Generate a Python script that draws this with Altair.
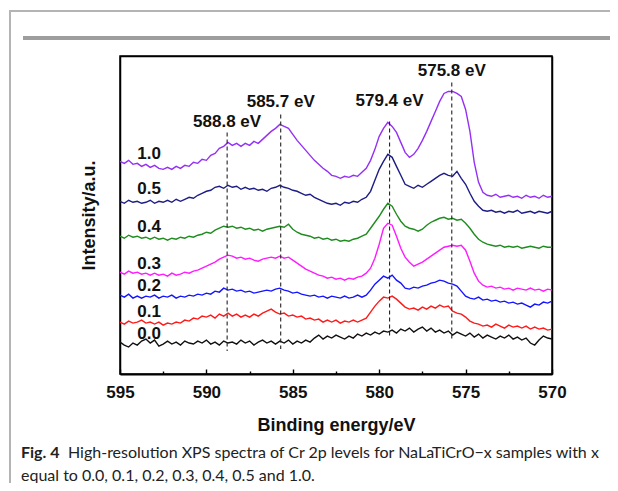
import altair as alt
import pandas as pd

# ---- data ----
energy = [595.0 - 0.25 * i for i in range(101)]  # binding energy grid, eV

series_names = ["0.0", "0.1", "0.2", "0.3", "0.4", "0.5", "1.0"]
series_colors = ["#111111", "#ff1a1a", "#1414ff", "#ff1aff", "#1e8c1e", "#1c1c84", "#9430f5"]

s00 = [32, 29, 27, 31, 29, 33, 35, 31, 34, 28, 30, 33, 30, 32, 29, 33, 31, 30, 33, 31,
       34, 30, 32, 29, 33, 31, 32, 30, 34, 31, 33, 29, 32, 34, 31, 33, 30, 33, 31, 34,
       30, 33, 31, 34, 32, 36, 39, 35, 38, 36, 39, 37, 35, 38, 36, 40, 38, 41, 39, 42,
       40, 43, 42, 44, 41, 45, 43, 46, 42, 45, 47, 43, 46, 42, 44, 41, 43, 39, 42, 40,
       38, 41, 37, 40, 36, 39, 37, 35, 38, 36, 39, 35, 37, 34, 36, 31, 29, 34, 38, 36, 35]
s01 = [52, 50, 53, 51, 52, 54, 51, 52, 50, 52, 49, 51, 50, 52, 51, 54, 53, 56, 55, 58,
       57, 59, 56, 60, 58, 61, 58, 60, 57, 59, 57, 60, 58, 61, 63, 65, 62, 60, 61, 58,
       59, 57, 58, 55, 56, 54, 55, 52, 54, 52, 54, 51, 53, 52, 54, 52, 54, 56, 62, 68,
       73, 77, 76, 78, 75, 71, 67, 65, 66, 64, 67, 65, 68, 66, 69, 67, 68, 63, 61, 60,
       57, 53, 51, 50, 48, 49, 47, 50, 48, 46, 49, 47, 48, 46, 48, 45, 47, 45, 46, 44, 45]
s02 = [79, 77, 80, 76, 78, 76, 78, 77, 79, 76, 78, 77, 79, 76, 78, 77, 79, 78, 80, 79,
       81, 80, 83, 82, 86, 84, 85, 83, 84, 82, 83, 81, 82, 83, 84, 83, 85, 86, 84, 83,
       81, 82, 80, 79, 78, 79, 77, 78, 76, 78, 77, 76, 78, 76, 77, 79, 77, 79, 84, 90,
       94, 98, 96, 99, 94, 91, 86, 85, 87, 86, 88, 89, 91, 92, 94, 93, 91, 90, 88, 83,
       78, 76, 75, 77, 74, 75, 73, 74, 72, 73, 71, 72, 70, 71, 69, 67, 70, 69, 72, 71, 73]
s03 = [102, 100, 103, 101, 102, 100, 101, 99, 101, 99, 100, 98, 101, 99, 100, 102, 101, 103, 104, 106,
       108, 110, 112, 115, 117, 119, 118, 116, 117, 115, 116, 114, 113, 115, 116, 117, 116, 118, 116, 117,
       114, 111, 108, 105, 103, 101, 99, 98, 96, 97, 95, 96, 94, 96, 95, 97, 98, 101, 106, 116,
       130, 146, 151, 149, 138, 126, 117, 112, 108, 110, 112, 115, 118, 121, 124, 127, 128, 129, 128, 129,
       124, 113, 101, 93, 89, 87, 88, 86, 87, 85, 86, 84, 86, 85, 84, 86, 84, 85, 83, 85, 84]
s04 = [138, 136, 139, 137, 138, 136, 137, 135, 137, 135, 136, 134, 136, 135, 137, 136, 138, 137, 139, 140,
       142, 141, 144, 146, 148, 147, 148, 146, 147, 145, 146, 144, 145, 143, 145, 146, 147, 148, 147, 150,
       145, 142, 140, 139, 138, 136, 137, 135, 136, 134, 135, 133, 134, 133, 135, 136, 138, 140, 146, 152,
       158, 165, 171, 168, 160, 153, 148, 146, 145, 143, 145, 149, 152, 154, 156, 157, 155, 156, 154, 155,
       151, 146, 140, 135, 132, 130, 129, 128, 129, 127, 128, 127, 128, 126, 127, 128, 127, 126, 128, 127, 127]
s05 = [173, 171, 174, 172, 173, 171, 172, 174, 171, 173, 172, 174, 172, 175, 173, 175, 177, 176, 179, 181,
       183, 184, 187, 188, 186, 189, 187, 188, 185, 187, 185, 186, 184, 185, 183, 186, 187, 189, 187, 186,
       184, 183, 181, 179, 180, 177, 175, 173, 171, 170, 171, 169, 172, 171, 173, 172, 175, 177, 183, 194,
       205, 213, 220, 217, 208, 199, 190, 188, 186, 189, 187, 190, 193, 196, 199, 201, 199, 198, 203, 196,
       190, 181, 173, 168, 164, 163, 164, 162, 163, 161, 163, 162, 164, 161, 162, 163, 161, 163, 162, 161, 163]
s10 = [213, 211, 214, 210, 211, 208, 210, 207, 209, 206, 205, 207, 205, 208, 206, 209, 208, 212, 211, 215,
       214, 219, 221, 226, 228, 232, 229, 231, 228, 231, 229, 233, 231, 235, 239, 243, 246, 250, 248, 246,
       240, 234, 229, 224, 219, 214, 210, 206, 203, 199, 198, 196, 198, 197, 199, 198, 202, 206, 214, 225,
       238, 246, 252, 248, 242, 232, 222, 217, 220, 226, 234, 243, 253, 263, 273, 281, 283, 283, 281, 278,
       265, 243, 212, 192, 182, 179, 178, 180, 177, 178, 179, 177, 178, 176, 179, 177, 178, 176, 179, 177, 178]
series_values = [s00, s01, s02, s03, s04, s05, s10]

# curve labels (x = sample content)
curve_label_energy = 594.0
curve_label_level = [40, 62, 88, 110, 147, 185, 220]

# peak annotations
peak_energy = [588.8, 585.7, 579.4, 575.8]
peak_text = ["588.8 eV", "585.7 eV", "579.4 eV", "575.8 eV"]
peak_text_level = [252, 272, 273, 303]
peak_line_top = [242, 260, 253, 292]
peak_line_bottom = [23, 25, 37, 35]

major_ticks = [595, 590, 585, 580, 575, 570]
minor_ticks = [592.5, 587.5, 582.5, 577.5, 572.5]

x_min, x_max = 570, 595
y_min, y_max = 0, 318.5

caption_bold = "Fig. 4"
caption_rest = "High-resolution XPS spectra of Cr 2p levels for NaLaTiCrO\u2212x samples with x"
caption_line2 = "equal to 0.0, 0.1, 0.2, 0.3, 0.4, 0.5 and 1.0."

# ---- tables ----
rows = []
for name, vals in zip(series_names, series_values):
    for e, v in zip(energy, vals):
        rows.append({"E": e, "I": v, "series": name})
spectra = pd.DataFrame(rows)
labels_df = pd.DataFrame({"E": [curve_label_energy] * len(series_names),
                          "I": curve_label_level, "text": series_names})
peaks_df = pd.DataFrame({"E": peak_energy, "text": peak_text, "ty": peak_text_level,
                         "top": peak_line_top, "bottom": peak_line_bottom})
corner_df = pd.DataFrame({"E": [x_max, x_min], "I": [y_min, y_max]})
one = pd.DataFrame({"a": [0]})

W, H = 432, 318
FONT = "Liberation Sans"

xscale = alt.Scale(domain=[x_min, x_max], reverse=True, nice=False, zero=False)
yscale = alt.Scale(domain=[y_min, y_max], nice=False, zero=False)

lines = alt.Chart(spectra).mark_line(strokeWidth=1.4, interpolate="linear").encode(
    x=alt.X("E:Q", scale=xscale,
            axis=alt.Axis(values=major_ticks, format="d", title="Binding  energy/eV",
                          labelFontSize=17, labelFontWeight="bold", labelFont=FONT,
                          labelColor="#111", tickSize=0, labelPadding=10, grid=False,
                          domain=True, domainColor="black", domainWidth=2,
                          titleFont=FONT, titleFontSize=18, titleFontWeight="bold",
                          titleColor="#111", titlePadding=16, labelFlush=False)),
    y=alt.Y("I:Q", scale=yscale,
            axis=alt.Axis(title="Intensity/a.u.", labels=False, ticks=False, grid=False,
                          domain=True, domainColor="black", domainWidth=1.5,
                          titleFont=FONT, titleFontSize=18, titleFontWeight="bold",
                          titleColor="#111", titlePadding=22)),
    color=alt.Color("series:N", scale=alt.Scale(domain=series_names, range=series_colors),
                    legend=None),
    detail="series:N",
)

# top and right edges of the box, drawn as axes on the opposite sides
frame = alt.Chart(corner_df).mark_point(opacity=0).encode(
    x=alt.X("E:Q", scale=xscale,
            axis=alt.Axis(orient="top", labels=False, ticks=False, grid=False, title="",
                          domain=True, domainColor="black", domainWidth=1.5)),
    y=alt.Y("I:Q", scale=yscale,
            axis=alt.Axis(orient="right", labels=False, ticks=False, grid=False, title="",
                          domain=True, domainColor="black", domainWidth=1.5)),
)

# inward ticks on the bottom edge
major = alt.Chart(corner_df).mark_point(opacity=0).encode(
    x=alt.X("E:Q", scale=xscale,
            axis=alt.Axis(orient="top", offset=-H, values=major_ticks, labels=False,
                          ticks=True, tickSize=5, tickWidth=1.4, tickColor="black",
                          domain=False, grid=False, title="")),
)
minor = alt.Chart(corner_df).mark_point(opacity=0).encode(
    x=alt.X("E:Q", scale=xscale,
            axis=alt.Axis(orient="top", offset=-H, values=minor_ticks, labels=False,
                          ticks=True, tickSize=3, tickWidth=1.4, tickColor="black",
                          domain=False, grid=False, title="")),
)

dashes = alt.Chart(peaks_df).mark_rule(color="#222222", strokeWidth=1.1, strokeDash=[4, 3]).encode(
    x=alt.X("E:Q", axis=None), y=alt.Y("top:Q", axis=None), y2="bottom:Q")

peak_labels = alt.Chart(peaks_df).mark_text(font=FONT, fontSize=17, fontWeight="bold",
                                            color="#111", baseline="middle", align="center").encode(
    x=alt.X("E:Q", axis=None), y=alt.Y("ty:Q", axis=None), text="text:N")

curve_labels = alt.Chart(labels_df).mark_text(font=FONT, fontSize=17, fontWeight="bold",
                                              color="#111", baseline="middle", align="left").encode(
    x=alt.X("E:Q", axis=None), y=alt.Y("I:Q", axis=None), text="text:N")

# page decorations (pixel positions relative to plot origin at (120, 56))
border_left = alt.Chart(one).mark_rule(color="#b4b4b4", strokeWidth=2).encode(
    x=alt.value(-110), y=alt.value(-45), y2=alt.value(430))
border_top = alt.Chart(one).mark_rule(color="#b4b4b4", strokeWidth=2).encode(
    x=alt.value(-111), x2=alt.value(490), y=alt.value(-45))
bar = alt.Chart(one).mark_rule(color="#9e9e9e", strokeWidth=4).encode(
    x=alt.value(-97), x2=alt.value(490), y=alt.value(-18))

cap1a = alt.Chart(one).mark_text(font="Lato", fontSize=16, fontWeight="bold", color="#222",
                                 align="left", baseline="middle", text=caption_bold).encode(
    x=alt.value(-99), y=alt.value(397))
cap1b = alt.Chart(one).mark_text(font="Lato", fontSize=16, color="#222",
                                 align="left", baseline="middle", text=caption_rest).encode(
    x=alt.value(-52), y=alt.value(397))
cap2 = alt.Chart(one).mark_text(font="Lato", fontSize=16, color="#222",
                                align="left", baseline="middle", text=caption_line2).encode(
    x=alt.value(-99), y=alt.value(420))

chart = alt.layer(
    lines, frame, major, minor, dashes, peak_labels, curve_labels,
    border_left, border_top, bar, cap1a, cap1b, cap2
).resolve_axis(x="independent", y="independent").properties(
    width=W, height=H,
    padding={"left": 112, "top": 48, "right": 58, "bottom": 109},
    autosize=alt.AutoSizeParams(type="none"),
    background="white",
).configure_view(stroke="#000000", strokeWidth=1.5)

chart.save("out.html", embed_options={"renderer": "svg", "actions": False})
